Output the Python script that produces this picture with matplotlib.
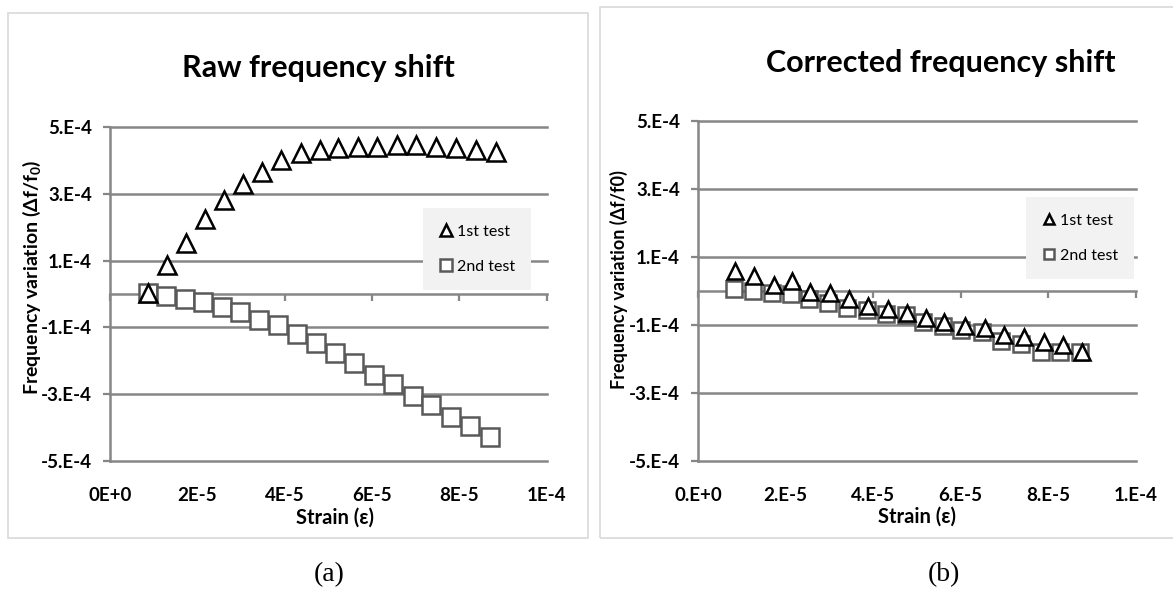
import matplotlib
matplotlib.use("Agg")
import matplotlib.pyplot as plt
from matplotlib.patches import Rectangle

plt.rcParams['font.family'] = ['Lato', 'DejaVu Sans']
plt.rcParams['mathtext.fontset'] = 'custom'
plt.rcParams['mathtext.rm'] = 'Lato'
plt.rcParams['mathtext.bf'] = 'Lato:bold'

# strain in units of 1E-5, frequency variation in units of 1E-4
# (a) raw frequency shift
raw_strain_1st = [0.88, 1.31, 1.74, 2.17, 2.62, 3.05, 3.48, 3.92, 4.37, 4.80,
                  5.23, 5.68, 6.12, 6.57, 7.02, 7.47, 7.92, 8.38, 8.84]
raw_shift_1st = [0.02, 0.88, 1.52, 2.26, 2.82, 3.28, 3.66, 4.00, 4.21, 4.32,
                 4.38, 4.40, 4.39, 4.45, 4.45, 4.40, 4.36, 4.32, 4.26]
raw_strain_2nd = [0.88, 1.29, 1.72, 2.13, 2.56, 2.97, 3.42, 3.85, 4.28, 4.72,
                  5.15, 5.58, 6.05, 6.48, 6.93, 7.36, 7.82, 8.25, 8.71]
raw_shift_2nd = [0.02, -0.07, -0.14, -0.25, -0.38, -0.53, -0.78, -0.94, -1.21, -1.47,
                 -1.77, -2.07, -2.42, -2.68, -3.05, -3.33, -3.68, -3.96, -4.27]

# (b) corrected frequency shift
cor_strain_1st = [0.85, 1.29, 1.73, 2.15, 2.57, 3.01, 3.45, 3.89, 4.34, 4.77,
                  5.21, 5.63, 6.09, 6.55, 7.00, 7.44, 7.90, 8.34, 8.78]
cor_shift_1st = [0.58, 0.45, 0.19, 0.28, -0.02, -0.06, -0.24, -0.45, -0.54, -0.64,
                 -0.78, -0.92, -1.04, -1.10, -1.30, -1.35, -1.50, -1.58, -1.78]
cor_strain_2nd = [0.82, 1.26, 1.69, 2.12, 2.54, 2.97, 3.40, 3.85, 4.30, 4.75,
                  5.15, 5.59, 6.02, 6.48, 6.92, 7.37, 7.83, 8.28, 8.72]
cor_shift_2nd = [0.06, -0.01, -0.05, -0.10, -0.24, -0.35, -0.51, -0.55, -0.67, -0.72,
                 -0.92, -1.02, -1.14, -1.22, -1.47, -1.57, -1.78, -1.80, -1.80]

x_ticks = [0, 2, 4, 6, 8, 10]
y_ticks = [-5, -3, -1, 1, 3, 5]
x_labels_a = ['0E+0', '2E-5', '4E-5', '6E-5', '8E-5', '1E-4']
x_labels_b = ['0.E+0', '2.E-5', '4.E-5', '6.E-5', '8.E-5', '1.E-4']
y_labels = ['-5.E-4', '-3.E-4', '-1.E-4', '1.E-4', '3.E-4', '5.E-4']
series_names = ['1st test', '2nd test']

GRID = '#868686'
SQ = '#595959'
W, H = 1173, 591


def px_box(x0, y0, x1, y1):
    return [x0 / W, 1 - y1 / H, (x1 - x0) / W, (y1 - y0) / H]


fig = plt.figure(figsize=(W / 100, H / 100), dpi=100)

# light frames around each chart
for (x0, y0, x1, y1) in [(8, 13, 588, 538), (600, 7, 1180, 538)]:
    fig.patches.append(Rectangle((x0 / W, 1 - y1 / H), (x1 - x0) / W, (y1 - y0) / H,
                                 transform=fig.transFigure, fill=False,
                                 ec='#d9d9d9', lw=1.2))


def draw_panel(ax, s1x, s1y, s2x, s2y, xlabels, ylabel, ylab_size, ms, leg_center):
    ax.set_xlim(0, 10)
    ax.set_ylim(-5, 5)
    ax.set_yticks(y_ticks)
    ax.set_yticklabels(y_labels, fontweight='bold', fontsize=13.5)
    ax.set_xticks(x_ticks)
    ax.set_xticklabels(xlabels, fontweight='bold', fontsize=13.5)
    ax.tick_params(axis='x', length=0, pad=19)
    ax.tick_params(axis='y', length=5, width=1.6, color=GRID, pad=8)
    ax.grid(axis='y', color=GRID, lw=1.8)
    for gl in ax.get_ygridlines():
        gl.set_clip_on(False)
    for side in ['top', 'right', 'bottom']:
        ax.spines[side].set_visible(False)
    ax.spines['left'].set_color(GRID)
    ax.spines['left'].set_linewidth(1.8)
    ax.set_axisbelow(True)

    # horizontal axis line through zero with tick marks
    sec = ax.secondary_xaxis(0.4999)
    sec.set_xticks(x_ticks)
    sec.tick_params(labelbottom=False, labeltop=False, length=5, width=1.6,
                    color=GRID, direction='out')
    for sp in sec.spines.values():
        sp.set_color(GRID)
        sp.set_linewidth(1.8)

    sq, = ax.plot(s2x, s2y, ls='none', marker='s', ms=ms, mfc='white',
                  mec=SQ, mew=1.8, label=series_names[1], zorder=3, clip_on=False)
    tri, = ax.plot(s1x, s1y, ls='none', marker='^', ms=ms, mfc='white',
                   mec='black', mew=1.8, label=series_names[0], zorder=4, clip_on=False)

    ax.set_xlabel('Strain (ε)', fontweight='bold', fontsize=14.5)
    ax.set_ylabel(ylabel, fontweight='bold', fontsize=ylab_size)

    leg = ax.legend(handles=[tri, sq], loc='center',
                    bbox_to_anchor=(leg_center[0] / W, 1 - leg_center[1] / H),
                    bbox_transform=fig.transFigure, frameon=True,
                    facecolor='#f2f2f2', edgecolor='none', fancybox=False,
                    framealpha=1, markerscale=0.6, handlelength=0.9,
                    handletextpad=0.25, labelspacing=1.3, borderpad=1.0,
                    fontsize=11.5)
    leg.set_zorder(6)


# (a)
ax_a = fig.add_axes(px_box(110, 127, 546.6, 461))
draw_panel(ax_a, raw_strain_1st, raw_shift_1st, raw_strain_2nd, raw_shift_2nd,
           x_labels_a, r'Frequency variation (Δf/f$_\mathbf{0}$)', 14, 13.5,
           (477, 249))
ax_a.xaxis.set_label_coords((335 - 110) / 436.6, (461 - 508) / 334)
ax_a.yaxis.set_label_coords((43 - 110) / 436.6, (461 - 277) / 334)

# (b)
ax_b = fig.add_axes(px_box(698, 121, 1135.7, 461))
draw_panel(ax_b, cor_strain_1st, cor_shift_1st, cor_strain_2nd, cor_shift_2nd,
           x_labels_b, 'Frequency variation (Δf/f0)', 13, 11.5,
           (1080, 238))
ax_b.xaxis.set_label_coords((917 - 698) / 437.7, (461 - 507) / 340)
ax_b.yaxis.set_label_coords((628 - 698) / 437.7, (461 - 280) / 340)

fig.text(318 / W, 1 - 68 / H, 'Raw frequency shift', ha='center', va='center',
         fontsize=22, fontweight='bold')
fig.text(941 / W, 1 - 63 / H, 'Corrected frequency shift', ha='center', va='center',
         fontsize=22, fontweight='bold')

fig.text(329 / W, 1 - 575 / H, '(a)', ha='center', va='center',
         fontsize=20, family='Liberation Serif')
fig.text(944 / W, 1 - 575 / H, '(b)', ha='center', va='center',
         fontsize=20, family='Liberation Serif')

fig.savefig('out.png', dpi=100)
